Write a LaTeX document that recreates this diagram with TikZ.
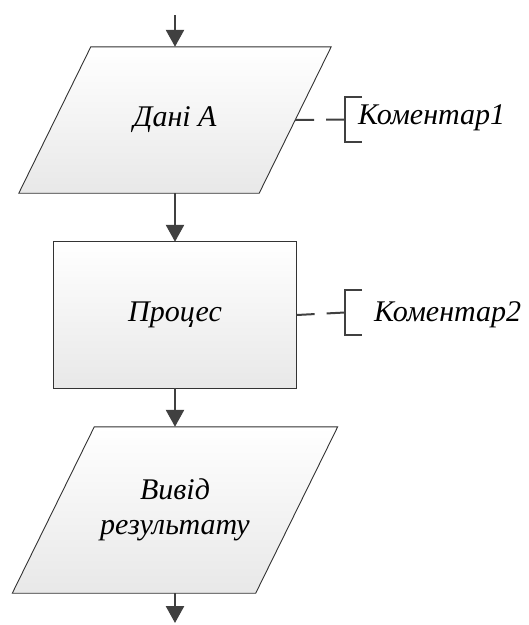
\documentclass[tikz,border=0pt]{standalone}
\usepackage{fontspec}
\setmainfont{Liberation Serif}
\usetikzlibrary{arrows.meta,backgrounds}

\definecolor{inkgray}{HTML}{404040}

\begin{document}
\begin{tikzpicture}[x=1pt,y=-1pt,
  lbl/.style={font=\itshape\fontsize{30}{35}\selectfont, text=black, align=center, inner sep=0pt},
  block/.style={lbl, minimum width=#1, minimum height=146pt},
  shapefill/.style={draw=black!80, line width=0.9pt, top color=white, bottom color=black!9},
  shadowfill/.style={fill=black!16, draw=none},
  flow/.style={draw=inkgray, line width=2.6pt, -{Triangle[length=17pt,width=18pt]}},
  note/.style={draw=inkgray, line width=2.4pt},
  bracketbox/.style={inner sep=0pt, minimum width=17pt, minimum height=45pt}
]
\useasboundingbox (0,0) rectangle (529,625);

% blocks
\node[block=240pt] (p1) at (175,120) {Дані А};
\node[block=243pt] (p2) at (175,315) {Процес};
\node[lbl, minimum width=243pt, minimum height=166pt] (p3) at (175,510) {Вивід\\результату};

% block outlines with soft shadows
\begin{scope}[on background layer]
  \begin{scope}[shift={(3,3)}]
    \path[shadowfill] ([xshift=-36pt]p1.south west) -- ([xshift=-36pt]p1.south east)
      -- ([xshift=36pt]p1.north east) -- ([xshift=36pt]p1.north west) -- cycle;
    \path[shadowfill] (p2.south west) rectangle (p2.north east);
    \path[shadowfill] ([xshift=-41pt]p3.south west) -- ([xshift=-41pt]p3.south east)
      -- ([xshift=41pt]p3.north east) -- ([xshift=41pt]p3.north west) -- cycle;
  \end{scope}
  \path[shapefill] ([xshift=-36pt]p1.south west) -- ([xshift=-36pt]p1.south east)
    -- ([xshift=36pt]p1.north east) -- ([xshift=36pt]p1.north west) -- cycle;
  \path[shapefill] (p2.south west) rectangle (p2.north east);
  \path[shapefill] ([xshift=-41pt]p3.south west) -- ([xshift=-41pt]p3.south east)
    -- ([xshift=41pt]p3.north east) -- ([xshift=41pt]p3.north west) -- cycle;
\end{scope}

% flow connectors
\coordinate (start) at (175,15);
\coordinate (finish) at (175,623);
\draw[flow] (start) -- (p1.north);
\draw[flow] (p1.south) -- (p2.north);
\draw[flow] (p2.south) -- (p3.north);
\draw[flow] (p3.south) -- (finish);

% comments
\node[bracketbox] (b1) at (353.5,119.5) {};
\node[bracketbox] (b2) at (353.5,312.5) {};
\draw[note] (b1.north east) -- (b1.north west) -- (b1.south west) -- (b1.south east);
\draw[note] (b2.north east) -- (b2.north west) -- (b2.south west) -- (b2.south east);
\draw[note, line width=2pt, dash pattern=on 19pt off 12pt] (p1.east) -- (b1.west);
\draw[note, line width=2pt, dash pattern=on 18pt off 12pt] (p2.east) -- (b2.west);
\node[lbl, anchor=west] (c1) at (358,118) {Коментар1};
\node[lbl, anchor=west] (c2) at (374,315) {Коментар2};
\end{tikzpicture}
\end{document}
